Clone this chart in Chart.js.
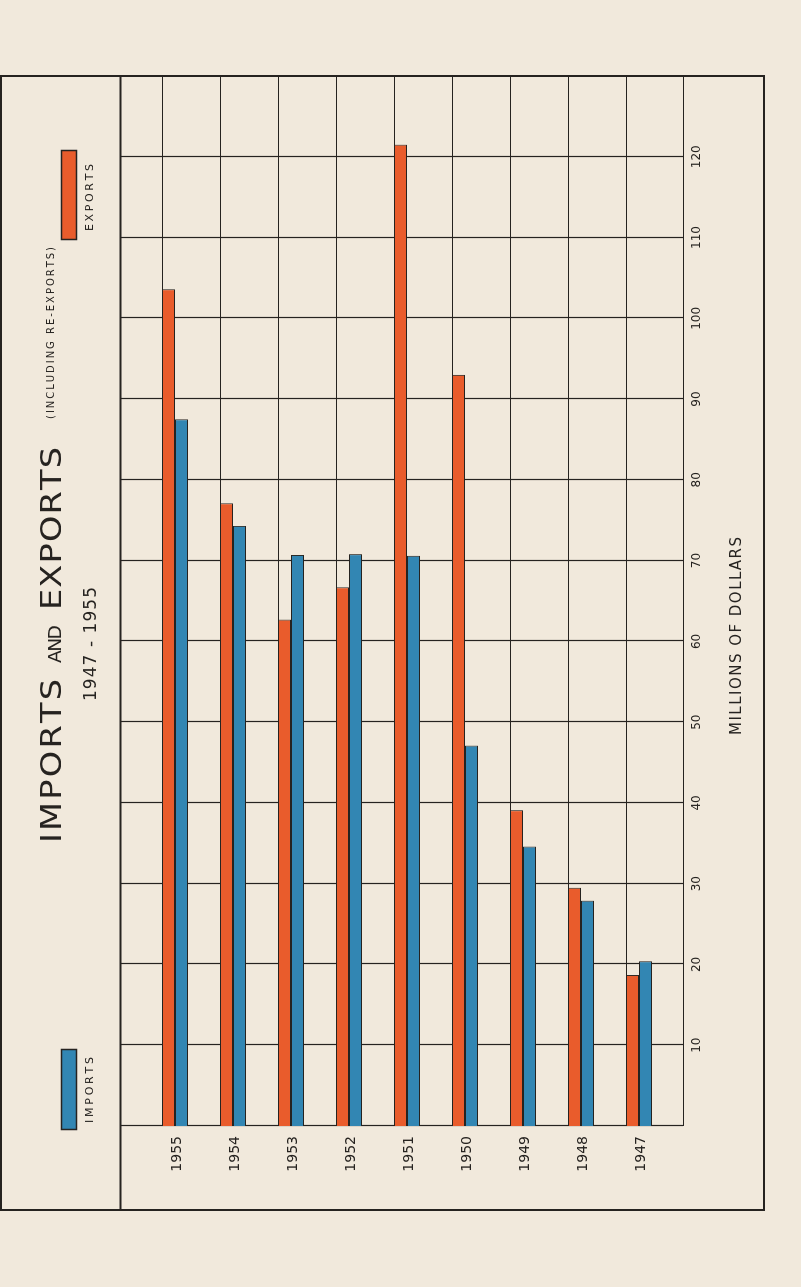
<!DOCTYPE html>
<html>
<head>
<meta charset="utf-8">
<script src="https://cdn.jsdelivr.net/npm/chart.js@4"></script>
<style>
  html, body { margin: 0; padding: 0; width: 801px; height: 1287px; overflow: hidden; background: #f1e9dc; }
  /* the chart is drawn landscape, then turned a quarter left like the printed page */
  #sheet { position: absolute; left: 0; top: 0; width: 1287px; height: 801px;
           transform-origin: 0 0; transform: translateY(1287px) rotate(-90deg); }
  canvas { display: block; }
</style>
</head>
<body>
<div id="sheet"><canvas id="chart" width="1287" height="801"></canvas></div>
<script>
// values, millions of dollars
const years = ["1955", "1954", "1953", "1952", "1951", "1950", "1949", "1948", "1947"];
const exportsData = [103.6, 77.1, 62.7, 66.7, 121.5, 93.0, 39.1, 29.5, 18.7];
const importsData = [87.5, 74.3, 70.7, 70.8, 70.6, 47.1, 34.6, 27.9, 20.4];
const valueTicks = [10, 20, 30, 40, 50, 60, 70, 80, 90, 100, 110, 120];

const INK = "#262320";
const ORANGE = "#e95c2c";
const BLUE = "#3286b3";
const FONT = "'DejaVu Sans', sans-serif";

// draw a string spread out so it covers x0..x1 (stretch widens the glyphs)
function spreadText(ctx, str, size, x0, x1, y, stretch) {
  const k = stretch || 1;
  ctx.font = size + "px " + FONT;
  const widths = [...str].map((c) => ctx.measureText(c).width * k);
  const natural = widths.reduce((a, b) => a + b, 0);
  const gap = str.length > 1 ? (x1 - x0 - natural) / (str.length - 1) : 0;
  let x = x0;
  [...str].forEach((c, i) => {
    ctx.save();
    ctx.translate(x, y);
    ctx.scale(k, 1);
    ctx.fillText(c, 0, 0);
    ctx.restore();
    x += widths[i] + gap;
  });
}

const framePlugin = {
  id: "frame",
  beforeDatasetsDraw(chart) {
    const ctx = chart.ctx;
    const xs = chart.scales.x;
    const meta = chart.getDatasetMeta(0);
    ctx.save();
    ctx.strokeStyle = INK;
    ctx.lineWidth = 1.2;
    // value lines (0 .. 120), across the whole grid band
    [0, ...valueTicks].forEach((v) => {
      const x = Math.round(xs.getPixelForValue(v)) + 0.5;
      ctx.beginPath();
      ctx.moveTo(x, 120);
      ctx.lineTo(x, 683);
      ctx.stroke();
    });
    // year lines run along the outer edge of each export bar
    meta.data.forEach((bar) => {
      const y = Math.round(bar.y - bar.height / 2) + 0.5;
      ctx.beginPath();
      ctx.moveTo(xs.getPixelForValue(0), y);
      ctx.lineTo(xs.right, y);
      ctx.stroke();
    });
    ctx.beginPath();
    ctx.moveTo(xs.getPixelForValue(0), 683.5);
    ctx.lineTo(xs.right, 683.5);
    ctx.stroke();
    ctx.restore();
  },
  afterDraw(chart) {
    const ctx = chart.ctx;
    const xs = chart.scales.x;
    ctx.save();
    ctx.strokeStyle = INK;
    ctx.lineWidth = 2;
    ctx.strokeRect(77, 1, xs.right - 77, 763);
    ctx.beginPath();
    ctx.moveTo(77, 120.5);
    ctx.lineTo(xs.right, 120.5);
    ctx.stroke();

    ctx.fillStyle = INK;
    ctx.textBaseline = "alphabetic";
    ctx.textAlign = "left";
    // heading
    spreadText(ctx, "IMPORTS", 28, 444, 608, 61, 1.2);
    spreadText(ctx, "AND", 17, 624, 662, 61, 1.1);
    spreadText(ctx, "EXPORTS", 28, 677, 840, 61, 1.2);
    spreadText(ctx, "(INCLUDING RE-EXPORTS)", 10, 868, 1040, 54);
    spreadText(ctx, "1947 - 1955", 17, 586, 700, 96);
    spreadText(ctx, "MILLIONS OF DOLLARS", 15, 552, 750, 741);

    // key
    const keys = [
      { label: "IMPORTS", color: BLUE, x0: 157, x1: 238, t0: 164, t1: 230 },
      { label: "EXPORTS", color: ORANGE, x0: 1047, x1: 1137, t0: 1056, t1: 1123 },
    ];
    keys.forEach((k) => {
      ctx.fillStyle = k.color;
      ctx.fillRect(k.x0, 61, k.x1 - k.x0, 16);
      ctx.lineWidth = 1.5;
      ctx.strokeRect(k.x0 + 0.5, 61.5, k.x1 - k.x0 - 1, 15);
      ctx.fillStyle = INK;
      spreadText(ctx, k.label, 11, k.t0, k.t1, 93);
    });
    ctx.restore();
  },
};

new Chart(document.getElementById("chart"), {
  type: "bar",
  data: {
    labels: years,
    datasets: [
      {
        label: "EXPORTS",
        data: exportsData,
        backgroundColor: ORANGE,
        borderColor: INK,
        borderWidth: 1,
        categoryPercentage: 0.45,
        barPercentage: 1,
      },
      {
        label: "IMPORTS",
        data: importsData,
        backgroundColor: BLUE,
        borderColor: INK,
        borderWidth: 1,
        categoryPercentage: 0.45,
        barPercentage: 1,
      },
    ],
  },
  options: {
    indexAxis: "y",
    responsive: false,
    animation: false,
    devicePixelRatio: 1,
    layout: { padding: { top: 146, right: 76, bottom: 0, left: 0 } },
    plugins: { legend: { display: false }, tooltip: { enabled: false } },
    scales: {
      x: {
        min: 0,
        max: 130,
        grid: { display: false, drawTicks: false },
        border: { display: false },
        afterBuildTicks: (s) => { s.ticks = valueTicks.map((v) => ({ value: v })); },
        afterFit: (s) => { s.height = 133; },
        ticks: { padding: 22, color: INK, autoSkip: false, maxRotation: 0, font: { family: FONT, size: 12 } },
      },
      y: {
        grid: { display: false, drawTicks: false },
        border: { display: false },
        afterFit: (s) => { s.width = 161; },
        ticks: { padding: 10, labelOffset: 2, color: INK, font: { family: FONT, size: 14 } },
      },
    },
  },
  plugins: [framePlugin],
});
</script>
</body>
</html>
